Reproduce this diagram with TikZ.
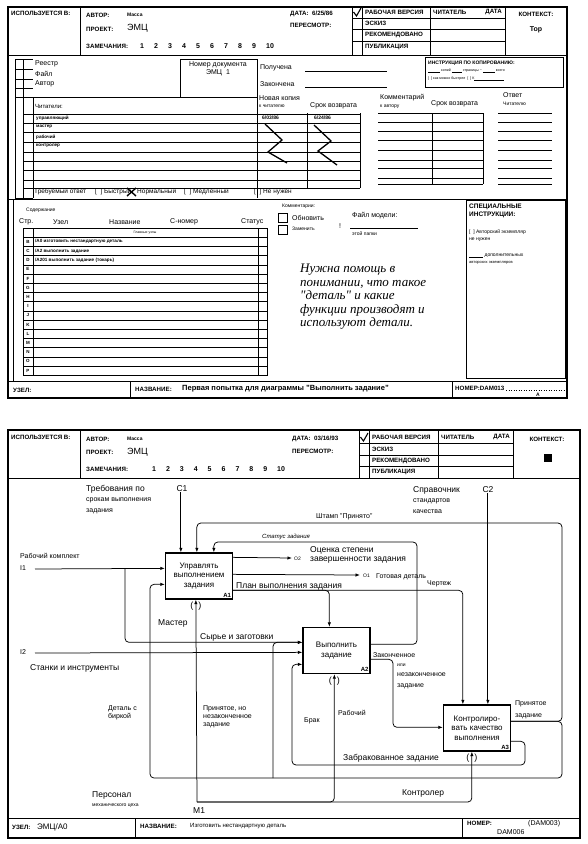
\documentclass[tikz,border=0pt]{standalone}
\usepackage{fontspec}
\setmainfont{Liberation Sans}
\newfontfamily\handfont{Liberation Serif}
\usetikzlibrary{positioning,arrows.meta,calc}

\newcommand{\ulblank}[1]{\rule{#1}{0.3pt}}

\begin{document}
\begin{tikzpicture}[x=1pt,y=-1pt,>={Latex[length=4.5pt,width=3.4pt]},
  every node/.style={inner sep=0pt,anchor=west},
  hd/.style={font=\fontsize{6.2}{7}\selectfont\bfseries},
  sm/.style={font=\fontsize{5}{6}\selectfont},
  tx/.style={font=\fontsize{7}{8}\selectfont},
  lb/.style={font=\fontsize{8.5}{9.5}\selectfont},
  formline/.style={line width=0.5pt},
  frame/.style={line width=1.1pt},
  func/.style={draw,line width=1.3pt,anchor=center,minimum width=67pt,
    minimum height=46pt,align=center,font=\fontsize{8}{9.5}\selectfont},
  num/.style={font=\fontsize{6}{6}\selectfont\bfseries,anchor=south east,inner sep=2pt},
  flow/.style={line width=0.75pt,rounded corners=4pt},
  tunnel/.style={anchor=center,font=\fontsize{9}{9}\selectfont}]
\useasboundingbox (0,0) rectangle (587,844);

% context sheet
\draw[frame] (8,7) rectangle (567,398);
\draw[formline] (80,7) -- (80,55) (8,55) -- (567,55) (352,7) -- (352,55)
  (362,7) -- (362,55) (430,7) -- (430,55) (505,7) -- (505,55);
\foreach \y in {18,29,41} \draw[formline] (352,\y) -- (505,\y);
\draw[line width=1.1pt] (353.5,12) -- (356.5,16) -- (361,8);
\node[hd] (usedA) at (11,13) {ИСПОЛЬЗУЕТСЯ В:};
\node[hd] (authA) at (86,15) {АВТОР:};
\node[sm] (massA) at (127,15) {\bfseries Масса};
\node[hd] (projA) at (86,29) {ПРОЕКТ:};
\node[font=\fontsize{9}{9}\selectfont] (emcA) at (127,28) {ЭМЦ};
\node[hd] (remA) at (86,46) {ЗАМЕЧАНИЯ:};
\foreach \n in {1,...,10} \node[tx] (rA\n) at (126+14*\n,46) {\bfseries\n};
\node[hd] (dateA) at (290,14) {ДАТА:\ \ 6/25/86};
\node[hd] (revA) at (290,25) {ПЕРЕСМОТР:};
\node[hd] (wvA) at (365,12) {РАБОЧАЯ ВЕРСИЯ};
\node[hd] (rdA) at (433,12) {ЧИТАТЕЛЬ};
\node[hd,anchor=east] (rdtA) at (502,12) {ДАТА};
\node[hd] (skA) at (365,23) {ЭСКИЗ};
\node[hd] (recA) at (365,35) {РЕКОМЕНДОВАНО};
\node[hd] (pubA) at (365,47) {ПУБЛИКАЦИЯ};
\node[hd,anchor=center] (ctxA) at (536,14) {КОНТЕКСТ:};
\node[tx,anchor=center] (topA) at (536,30) {\bfseries Top};

\draw[formline] (15,59) -- (15,198) -- (33,198) (23,59) -- (23,198)
  (180,59) -- (257,59) (180,59) -- (180,97);
\foreach \y in {59,69,79,88} \draw[formline] (15,\y) -- (33,\y);
\draw[line width=0.9pt] (15,97) -- (257,97) (33,97) -- (33,198) (257,59) -- (257,198);
\foreach \y in {114,123,132,142,152,161,170,180,188} \draw[formline] (23,\y) -- (360,\y);
\draw[formline] (307,113) -- (307,188) (360,113) -- (360,188);
\node[tx] (regA) at (35,64) {Реестр};
\node[tx] (fileA) at (35,74) {Файл};
\node[tx] (autA) at (35,84) {Автор};
\node[tx,align=center,anchor=north] (docA) at (218,61) {Номер документа\\ЭМЦ\ \ 1};
\node[tx] (getA) at (260,68) {Получена};
\node[tx] (finA) at (260,84) {Закончена};
\draw[formline] (305,71) -- (387,71) (305,87) -- (387,87);
\node[tx] (cpyA) at (259,98) {Новая копия};
\node[sm] (cpy2A) at (259,106) {к читателю};
\node[tx] (retA) at (310,106) {Срок возврата};
\node[tx] (comA) at (380,98) {Комментарий};
\node[sm] (com2A) at (380,107) {к автору};
\node[tx] (ret2A) at (431,104) {Срок возврата};
\node[tx] (ansA) at (503,95) {Ответ};
\node[sm] (ans2A) at (503,104) {Читателю};
\node[sm] (d1A) at (262,118) {\bfseries 6/03/86};
\node[sm] (d2A) at (314,118) {\bfseries 6/24/86};
\draw[line width=1.3pt] (265,124) -- (282,140) -- (268,152) -- (287,163)
  (314,125) -- (331,141) -- (318,151) -- (337,165);
\foreach \y in {113,122,131,140,150,160,168,178,184}
  \draw[formline] (378,\y) -- (483,\y) (498,\y) -- (552,\y);
\draw[formline] (432,113) -- (432,184) (483,113) -- (483,184);
\draw[formline] (425,57) rectangle (563,87);
\node[font=\fontsize{5}{6}\selectfont\bfseries] (cinA) at (428,63) {ИНСТРУКЦИЯ ПО КОПИРОВАНИЮ:};
\node[font=\fontsize{3.6}{4}\selectfont] (cin2A) at (428,71)
  {\ulblank{12pt} копий \ulblank{10pt} страницы \textasciitilde{} \ulblank{12pt} всего};
\node[font=\fontsize{3.6}{4}\selectfont] (cin3A) at (428,79)
  {[\ \ ] как можно быстрее\ \ [\ \ ] К\ulblank{30pt}};
\node[font=\fontsize{6}{7}\selectfont] (rdrA) at (35,106) {Читатели:};
\foreach \t/\y in {управляющий/118,мастер/127,рабочий/137,контролер/146}
  \node[font=\fontsize{4.6}{5}\selectfont\bfseries] (rd\y) at (36,\y) {\t};
\node[font=\fontsize{6.5}{7}\selectfont] (reqA) at (34,192) {Требуемый ответ};
\node[font=\fontsize{6.5}{7}\selectfont] (fastA) at (95,192) {[\ \ ] Быстрый};
\node[font=\fontsize{6.5}{7}\selectfont] (normA) at (137,192) {Нормальный};
\node[font=\fontsize{6.5}{7}\selectfont] (slowA) at (184,192) {[\ \ ] Медленный};
\node[font=\fontsize{6.5}{7}\selectfont] (noA) at (254,192) {[\ \ ] Не нужен};
\draw[line width=1.4pt] (127,188) -- (136,196) (127,196) -- (136,188);

\draw[formline] (8,199) -- (567,199) (13,199) -- (13,381);
\node[sm] (contA) at (26,210) {Содержание};
\foreach \t/\x in {Стр./19,Узел/53,Название/109,С-номер/170,Статус/241}
  \node[tx] (h\x) at (\x,222) {\t};
\draw[formline] (23,228) rectangle (267,375) (33,228) -- (33,375) (258,228) -- (258,375);
\foreach \i in {1,...,15} \draw[formline] (23,228+9.2*\i) -- (267,228+9.2*\i);
\node[font=\fontsize{3.5}{4}\selectfont,anchor=center] (topnA) at (145,232.6) {Главные узлы};
\foreach \l [count=\i] in {B,C,D,E,F,G,H,I,J,K,L,M,N,O,P}
  \node[font=\fontsize{4.5}{5}\selectfont\bfseries,anchor=center] (row\l) at (28,232.6+9.2*\i) {\l};
\node[font=\fontsize{4.6}{5}\selectfont\bfseries] (nB) at (35,241.8) {/A0 изготовить нестандартную деталь};
\node[font=\fontsize{4.6}{5}\selectfont\bfseries] (nC) at (35,251) {/A2 выполнить задание};
\node[font=\fontsize{4.6}{5}\selectfont\bfseries] (nD) at (35,260.2) {/A201 выполнить задание (токарь)};
\node[sm] (cmtA) at (282,206) {Комментарии:};
\draw[formline] (278,213) rectangle (287,222) (278,225) rectangle (287,234);
\node[tx] (updA) at (292,218) {Обновить};
\node[sm] (repA) at (292,229) {Заменить};
\node[tx] (excA) at (339,226) {!};
\node[tx] (mfA) at (352,216) {Файл модели:};
\draw[formline] (350,228) -- (418,228);
\node[sm] (mf2A) at (352,234) {этой папки};
\node[font=\handfont\itshape\fontsize{13}{13.5}\selectfont,align=left,anchor=north west] (noteA)
  at (300,264) {Нужна помощь в\\понимании, что такое\\"деталь" и какие\\функции производят и\\используют детали.};
\draw[line width=0.9pt] (466,200) rectangle (565,378);
\node[font=\fontsize{6.5}{7.5}\selectfont\bfseries,align=left,anchor=north west] (spA)
  at (469,204) {СПЕЦИАЛЬНЫЕ\\ИНСТРУКЦИИ:};
\node[sm] (sp2A) at (469,232) {[\ \ ] Авторский экземпляр};
\node[sm] (sp3A) at (469,240) {не нужен};
\node[sm] (sp4A) at (469,256) {\ulblank{14pt} дополнительных};
\node[font=\fontsize{4}{5}\selectfont] (sp5A) at (469,263) {авторских экземпляров};

\draw[formline] (8,381) -- (567,381) (130,381) -- (130,398) (452,381) -- (452,398);
\node[hd] (nodeA) at (13,390) {УЗЕЛ:};
\node[hd] (nameA) at (135,389) {НАЗВАНИЕ:};
\node[font=\fontsize{7.5}{8}\selectfont\bfseries] (ttlA) at (182,389)
  {Первая попытка для диаграммы "Выполнить задание"};
\node[hd] (numA) at (455,388) {НОМЕР:DAM013};
\draw[formline,dotted] (506,390) -- (565,390);
\node[sm,anchor=center] (pgA) at (538,395) {\bfseries A};

% A0 sheet
\draw[frame] (8,430) rectangle (580,838);
\draw[formline] (80,430) -- (80,478) (8,478) -- (580,478) (359,430) -- (359,478)
  (369,430) -- (369,478) (438,430) -- (438,478) (513,430) -- (513,478);
\foreach \y in {443,455,466} \draw[formline] (359,\y) -- (513,\y);
\draw[line width=1.1pt] (360.5,437) -- (363.5,441) -- (368,433);
\node[hd] (usedB) at (11,437) {ИСПОЛЬЗУЕТСЯ В:};
\node[hd] (authB) at (86,439) {АВТОР:};
\node[sm] (massB) at (127,439) {\bfseries Масса};
\node[hd] (projB) at (86,452) {ПРОЕКТ:};
\node[font=\fontsize{9}{9}\selectfont] (emcB) at (127,452) {ЭМЦ};
\node[hd] (remB) at (86,469) {ЗАМЕЧАНИЯ:};
\foreach \n in {1,...,10} \node[tx] (rB\n) at (138+13.9*\n,469) {\bfseries\n};
\node[hd] (dateB) at (292,439) {ДАТА:\ \ 03/16/93};
\node[hd] (revB) at (292,451) {ПЕРЕСМОТР:};
\node[hd] (wvB) at (372,437) {РАБОЧАЯ ВЕРСИЯ};
\node[hd] (rdB) at (441,437) {ЧИТАТЕЛЬ};
\node[hd,anchor=east] (rdtB) at (510,437) {ДАТА};
\node[hd] (skB) at (372,449) {ЭСКИЗ};
\node[hd] (recB) at (372,461) {РЕКОМЕНДОВАНО};
\node[hd] (pubB) at (372,472) {ПУБЛИКАЦИЯ};
\node[hd,anchor=center] (ctxB) at (547,439) {КОНТЕКСТ:};
\node[fill,minimum size=8pt,anchor=center] (ctxsq) at (548,458) {};

\node[func] (a1) at (199,576) {Управлять\\выполнением\\задания};
\node[func] (a2) at (336.5,650.5) {Выполнить\\задание};
\node[func] (a3) at (477,728) {Контролиро-\\вать качество\\выполнения};
\node[num] (a1n) at (a1.south east) {A1};
\node[num] (a2n) at (a2.south east) {A2};
\node[num] (a3n) at (a3.south east) {A3};

\coordinate (a1i1) at ($(a1.north west)+(0,16)$);
\coordinate (a1i2) at ($(a1.north west)+(0,32)$);
\coordinate (a1o1) at ($(a1.north east)+(0,5)$);
\coordinate (a1o2) at ($(a1.north east)+(0,22)$);
\coordinate (a1o3) at ($(a1.north east)+(0,38)$);
\coordinate (a1c1) at ($(a1.north west)+(16,0)$);
\coordinate (a1c2) at ($(a1.north west)+(32,0)$);
\coordinate (a1c3) at ($(a1.north west)+(49,0)$);
\coordinate (a1m) at ($(a1.south west)+(31,0)$);
\coordinate (a2i1) at ($(a2.north west)+(0,15.5)$);
\coordinate (a2i2) at ($(a2.north west)+(0,25.5)$);
\coordinate (a2i3) at ($(a2.north west)+(0,37.5)$);
\coordinate (a2o1) at ($(a2.north east)+(0,17.5)$);
\coordinate (a2o2) at ($(a2.north east)+(0,32.5)$);
\coordinate (a2c1) at ($(a2.north west)+(27,0)$);
\coordinate (a2m) at ($(a2.south west)+(32,0)$);
\coordinate (a3i1) at ($(a3.north west)+(0,23)$);
\coordinate (a3o1) at ($(a3.north east)+(0,17)$);
\coordinate (a3o2) at ($(a3.north east)+(0,37)$);
\coordinate (a3c1) at ($(a3.north west)+(20,0)$);
\coordinate (a3c2) at ($(a3.north west)+(45,0)$);
\coordinate (a3m) at ($(a3.south west)+(29,0)$);

\node[lb] (req1) at (86,489) {Требования по};
\node[tx] (req2) at (86,500) {срокам выполнения};
\node[tx] (req3) at (86,511) {задания};
\node[lb,anchor=center] (c1l) at (182,489) {C1};
\node[tx] (wk1) at (20,556) {Рабочий комплект};
\node[tx] (i1l) at (20,568) {I1};
\coordinate (i1) at (35,569);
\coordinate (i1b) at (125,569);
\node[tx] (i2l) at (20,652) {I2};
\coordinate (i2) at (35,653);
\node[lb] (tools) at (30,668) {Станки и инструменты};
\node[font=\fontsize{6}{7}\selectfont\itshape] (stat) at (262,537) {Статус задания};
\node[tx] (stamp) at (316,517) {Штамп "Принято"};
\node[lb] (ref1) at (413,490) {Справочник};
\node[tx] (ref2) at (413,501) {стандартов};
\node[tx] (ref3) at (413,512) {качества};
\node[lb,anchor=center] (c2l) at (488,490) {C2};
\coordinate (o2) at (292,558);
\node[sm] (o2l) at (294,559) {O2};
\node[lb,align=left,anchor=north west] (eval) at (310,546) {Оценка степени\\завершенности задания};
\coordinate (o1) at (360,575);
\node[sm] (o1l) at (363,576) {O1};
\node[tx] (done) at (376,577) {Готовая деталь};
\node[lb] (plan) at (236,586) {План выполнения задания};
\node[tx] (drw) at (427,584) {Чертеж};
\node[lb] (mst) at (158,623) {Мастер};
\node[lb] (raw) at (200,637) {Сырье и заготовки};
\node[tx] (fin1) at (373,655) {Законченное};
\node[sm] (fin2) at (397,665) {или};
\node[tx] (fin3) at (397,675) {незаконченное};
\node[tx] (fin4) at (397,686) {задание};
\node[tx] (acc1) at (515,704) {Принятое};
\node[tx] (acc2) at (515,716) {задание};
\node[tx,align=left,anchor=north west] (tag) at (108,705) {Деталь с\\биркой};
\node[tx,align=left,anchor=north west] (part) at (203,705) {Принятое, но\\незаконченное\\задание};
\node[tx] (rej) at (304,721) {Брак};
\node[tx] (wrk) at (338,713) {Рабочий};
\node[lb] (rejt) at (343,758) {Забракованное задание};
\node[lb] (ctl) at (402,793) {Контролер};
\node[lb] (pers1) at (92,795) {Персонал};
\node[sm] (pers2) at (92,806) {механического цеха};
\node[lb] (m1l) at (193,811) {M1};
\coordinate (mm) at (197,802);

\draw[flow,->] (c1l.south -| a1c1) -- (a1c1);
\draw[flow,->] (c2l.south -| a3c2) -- (a3c2);
\draw[flow,->] (i1) -- (a1i1);
\draw[flow,->] (i1b) |- (a2i1);
\draw[flow,->] (i2) -- (a2i2);
\draw[flow,->] (a1o1) -- (o2);
\draw[flow,->] (a1o2) -- (o1);
\draw[flow,->] (a1o3) -| (a2c1);
\draw[flow,->] (a1o3) -| (a3c1);
\draw[flow,->] (a2o1) -| (417,542) -| (a1c3);
\draw[flow,->] (a3o1) -| (562,523) -| (a1c2);
\draw[flow,->] (a3o1) -| (562,778) -- (150,778) |- (a1i2);
\draw[flow,->] (273,778) |- (a2i1);
\draw[flow,->] (a2o2) -| (393,700) |- (a3i1);
\draw[flow,->] (a3o2) -| (525,765) -| (292,700) |- (a2i3);
\draw[flow,->] (mm) -- (a1m);
\draw[flow,->] (mm) -| (a2m);
\draw[flow,->] (mm) -| (a3m);
\node[tunnel] (t1) at ($(a1m)+(0,7)$) {(\hspace{5pt})};
\node[tunnel] (t2) at ($(a2m)+(0,7)$) {(\hspace{5pt})};
\node[tunnel] (t3) at ($(a3m)+(0,7)$) {(\hspace{5pt})};

\draw[formline] (8,818) -- (580,818) (135,818) -- (135,838) (462,818) -- (462,838);
\node[hd] (nodeB) at (12,827) {УЗЕЛ:};
\node[font=\fontsize{8}{8}\selectfont] (nodevB) at (37,827) {ЭМЦ/А0};
\node[hd] (nameB) at (140,826) {НАЗВАНИЕ:};
\node[font=\fontsize{6}{7}\selectfont] (ttlB) at (190,826) {Изготовить нестандартную деталь};
\node[hd] (numB) at (467,823) {НОМЕР:};
\node[tx] (num1B) at (528,823.5) {(DAM003)};
\node[tx] (num2B) at (497,832) {DAM006};
\end{tikzpicture}
\end{document}
